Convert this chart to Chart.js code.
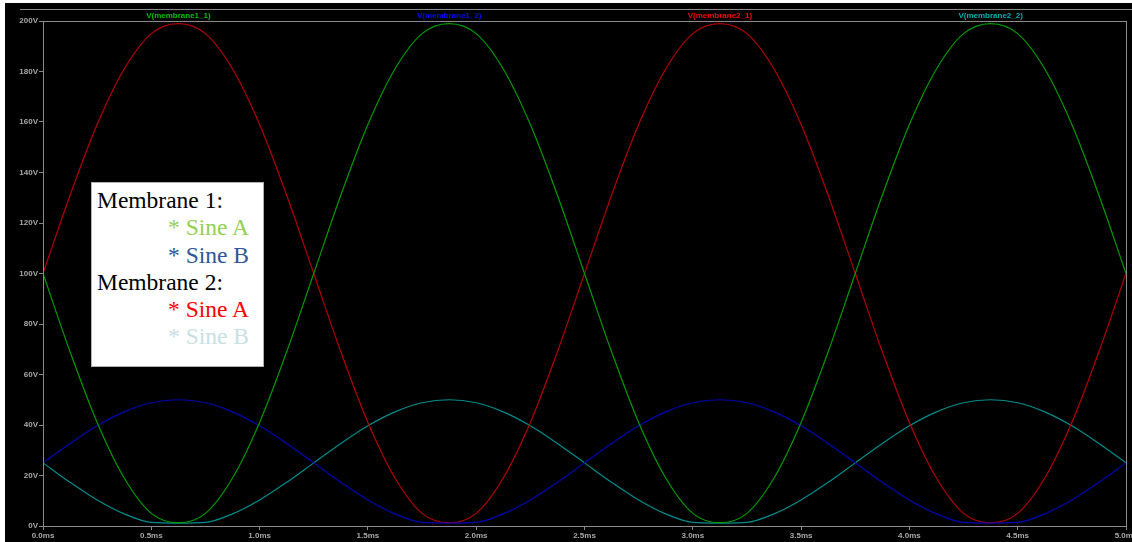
<!DOCTYPE html>
<html>
<head>
<meta charset="utf-8">
<script src="https://cdn.jsdelivr.net/npm/chart.js@4.4.1/dist/chart.umd.min.js"></script>
<style>
  html, body { margin: 0; padding: 0; background: #fff; }
  #wrap { position: relative; width: 1132px; height: 542px; overflow: hidden; }
  #graf { position: absolute; left: 0; top: 0; }
  #nota {
    position: absolute; left: 91px; top: 182px; width: 173px; height: 185px;
    background: #fff; border: 1px solid #b0b0b0;
    font-family: "Liberation Serif", "Times New Roman", serif; font-size: 23.5px;
    line-height: 27.3px; color: #000; padding-top: 4px; box-sizing: border-box;
  }
  #nota div { padding-left: 5px; white-space: nowrap; }
  #nota .sub { padding-left: 76px; }
</style>
</head>
<body>
<div id="wrap">
  <canvas id="graf" width="1132" height="542"></canvas>
  <div id="nota">
    <div>Membrane 1:</div>
    <div class="sub" style="color:#92d050">* Sine A</div>
    <div class="sub" style="color:#2f5597">* Sine B</div>
    <div>Membrane 2:</div>
    <div class="sub" style="color:#ff0000">* Sine A</div>
    <div class="sub" style="color:#c6e0e3">* Sine B</div>
  </div>
</div>
<script>
// tiempos en ms, un punto cada 0.125 ms
const tiempos = [0, 0.125, 0.25, 0.375, 0.5, 0.625, 0.75, 0.875, 1, 1.125, 1.25,
    1.375, 1.5, 1.625, 1.75, 1.875, 2, 2.125, 2.25, 2.375, 2.5,
    2.625, 2.75, 2.875, 3, 3.125, 3.25, 3.375, 3.5, 3.625, 3.75,
    3.875, 4, 4.125, 4.25, 4.375, 4.5, 4.625, 4.75, 4.875, 5];

const membrane1_1 = [100, 69, 41, 19, 5, 1.3, 5, 19, 41, 69, 100,
    131, 159, 181, 195, 199, 195, 181, 159, 131, 100,
    69, 41, 19, 5, 1.3, 5, 19, 41, 69, 100,
    131, 159, 181, 195, 199, 195, 181, 159, 131, 100];

const membrane1_2 = [25, 32.7, 39.7, 45.2, 48.8, 50, 48.8, 45.2, 39.7, 32.7, 25,
    17.3, 10.3, 4.8, 1.4, 1.1, 1.4, 4.8, 10.3, 17.3, 25,
    32.7, 39.7, 45.2, 48.8, 50, 48.8, 45.2, 39.7, 32.7, 25,
    17.3, 10.3, 4.8, 1.4, 1.1, 1.4, 4.8, 10.3, 17.3, 25];

const membrane2_1 = [100, 131, 159, 181, 195, 199, 195, 181, 159, 131, 100,
    69, 41, 19, 5, 1.3, 5, 19, 41, 69, 100,
    131, 159, 181, 195, 199, 195, 181, 159, 131, 100,
    69, 41, 19, 5, 1.3, 5, 19, 41, 69, 100];

const membrane2_2 = [25, 17.3, 10.3, 4.8, 1.4, 1.1, 1.4, 4.8, 10.3, 17.3, 25,
    32.7, 39.7, 45.2, 48.8, 50, 48.8, 45.2, 39.7, 32.7, 25,
    17.3, 10.3, 4.8, 1.4, 1.1, 1.4, 4.8, 10.3, 17.3, 25,
    32.7, 39.7, 45.2, 48.8, 50, 48.8, 45.2, 39.7, 32.7, 25];

const nombres = ["V(membrane1_1)", "V(membrane1_2)", "V(membrane2_1)", "V(membrane2_2)"];
const coloresLinea = ["#009a00", "#0000b4", "#b40000", "#008c8c"];
const coloresTexto = ["#00c000", "#0000ff", "#ff0000", "#00b0b0"];

const xTicks = ["0.0ms", "0.5ms", "1.0ms", "1.5ms", "2.0ms", "2.5ms",
    "3.0ms", "3.5ms", "4.0ms", "4.5ms", "5.0ms"];
const yTicks = ["0V", "20V", "40V", "60V", "80V", "100V", "120V", "140V", "160V", "180V", "200V"];

const gris = "#8a8a8a";
const fuenteEje = { family: "Liberation Sans, Arial", size: 8, weight: "bold" };

function serie(vals) {
    return tiempos.map((t, i) => ({ x: t, y: vals[i] }));
}

const series = [membrane1_1, membrane1_2, membrane2_1, membrane2_2];

const datos = {
    datasets: series.map((s, i) => ({
        label: nombres[i],
        data: serie(s),
        borderColor: coloresLinea[i],
        borderWidth: 1.2,
        pointRadius: 0,
        cubicInterpolationMode: "monotone",
        fill: false
    }))
};

// fondo, marco y nombres de trazas arriba
const marco = {
    id: "marco",
    beforeDraw(chart) {
        const ctx = chart.ctx;
        ctx.save();
        ctx.fillStyle = "#fff";
        ctx.fillRect(0, 0, chart.width, chart.height);
        ctx.fillStyle = "#000";
        ctx.fillRect(5, 3, chart.width - 5, chart.height - 3);
        ctx.restore();
    },
    afterDraw(chart) {
        const ctx = chart.ctx;
        const a = chart.chartArea;
        ctx.save();
        ctx.strokeStyle = gris;
        ctx.lineWidth = 1;
        ctx.strokeRect(Math.round(a.left) + 0.5, Math.round(a.top) + 0.5,
            Math.round(a.right - a.left), Math.round(a.bottom - a.top));
        ctx.beginPath();
        ctx.moveTo(20, 9.5);
        ctx.lineTo(chart.width, 9.5);
        ctx.stroke();
        ctx.font = "bold 8px 'Liberation Sans', Arial";
        ctx.textAlign = "center";
        ctx.textBaseline = "middle";
        const w = a.right - a.left;
        nombres.forEach((n, i) => {
            ctx.fillStyle = coloresTexto[i];
            ctx.fillText(n, a.left + w * (0.125 + i * 0.25), 15.5);
        });
        ctx.restore();
    }
};

const opciones = {
    responsive: false,
    animation: false,
    layout: { padding: { top: 21, right: 6, left: 0, bottom: 0 } },
    plugins: { legend: { display: false }, tooltip: { enabled: false } },
    scales: {
        x: {
            type: "linear",
            min: 0,
            max: 5,
            afterFit(scale) { scale.height = 16; scale.paddingLeft = 0; scale.paddingRight = 0; },
            afterBuildTicks(scale) { scale.ticks = xTicks.map((t, i) => ({ value: i * 0.5 })); },
            ticks: {
                autoSkip: false,
                maxRotation: 0,
                padding: 1,
                color: "#a8a8a8",
                font: fuenteEje,
                callback: (v, i) => xTicks[i]
            },
            grid: { drawOnChartArea: false, drawTicks: true, tickLength: 4, color: gris },
            border: { display: true, color: gris }
        },
        y: {
            min: 0,
            max: 200,
            afterFit(scale) { scale.width = 43; },
            afterBuildTicks(scale) { scale.ticks = yTicks.map((t, i) => ({ value: i * 20 })); },
            ticks: {
                autoSkip: false,
                padding: 1,
                color: "#a8a8a8",
                font: fuenteEje,
                callback: (v, i) => yTicks[i]
            },
            grid: { drawOnChartArea: false, drawTicks: true, tickLength: 4, color: gris },
            border: { display: true, color: gris }
        }
    }
};

new Chart(document.getElementById("graf"), {
    type: "line",
    data: datos,
    options: opciones,
    plugins: [marco]
});
</script>
</body>
</html>
